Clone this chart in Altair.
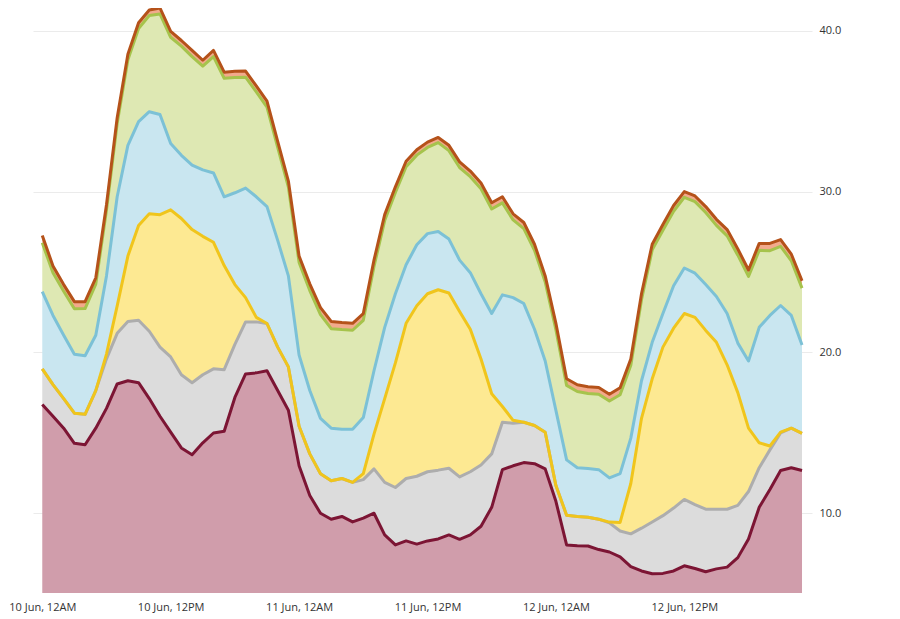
import altair as alt
import pandas as pd

# hourly timestamps, 10 Jun 00:00 .. 12 Jun 23:00
hours = pd.date_range("2024-06-10 00:00", periods=72, freq="h")

# cumulative top edge of each stacked band
red_top = [16.77, 16.03, 15.29, 14.35, 14.26, 15.29, 16.52, 18.04, 18.24, 18.12, 17.13, 16.03,
           15.04, 14.06, 13.64, 14.38, 14.99, 15.10, 17.20, 18.66, 18.73, 18.86, 17.63, 16.40,
           12.95, 11.10, 10.00, 9.63, 9.80, 9.46, 9.70, 10.00, 8.65, 8.03, 8.28, 8.08,
           8.28, 8.40, 8.65, 8.38, 8.65, 9.19, 10.37, 12.71, 12.95, 13.15, 13.08, 12.76,
           10.74, 8.03, 7.98, 7.96, 7.74, 7.59, 7.29, 6.68, 6.41, 6.24, 6.26, 6.41,
           6.73, 6.56, 6.36, 6.54, 6.65, 7.24, 8.40, 10.37, 11.48, 12.66, 12.83, 12.66]
grey_top = [18.98, 18.00, 17.13, 16.22, 16.15, 17.63, 19.60, 21.19, 21.93, 22.00, 21.32, 20.33,
            19.72, 18.61, 18.12, 18.61, 18.98, 18.93, 20.50, 21.90, 21.90, 21.80, 20.33, 19.10,
            15.41, 13.69, 12.46, 12.02, 12.16, 11.92, 12.09, 12.76, 11.92, 11.60, 12.16, 12.30,
            12.58, 12.68, 12.80, 12.26, 12.58, 13.00, 13.69, 15.66, 15.60, 15.66, 15.46, 15.04,
            11.72, 9.88, 9.80, 9.75, 9.63, 9.40, 8.90, 8.72, 9.07, 9.46, 9.85, 10.32,
            10.86, 10.54, 10.25, 10.25, 10.25, 10.49, 11.35, 12.83, 13.94, 15.00, 15.29, 14.97]
yellow_top = [18.98, 18.00, 17.13, 16.22, 16.15, 17.63, 19.90, 22.90, 25.99, 27.90, 28.62, 28.57,
              28.87, 28.33, 27.64, 27.22, 26.85, 25.40, 24.22, 23.41, 22.18, 21.80, 20.33, 19.10,
              15.41, 13.69, 12.46, 12.02, 12.16, 11.92, 12.46, 14.92, 17.13, 19.35, 21.81, 22.90,
              23.65, 23.90, 23.70, 22.55, 21.44, 19.59, 17.43, 16.64, 15.78, 15.66, 15.46, 15.04,
              11.72, 9.88, 9.80, 9.75, 9.63, 9.45, 9.43, 11.85, 15.90, 18.36, 20.33, 21.51,
              22.42, 22.18, 21.37, 20.63, 19.23, 17.50, 15.29, 14.38, 14.18, 15.04, 15.29, 14.97]
blue_top = [23.78, 22.30, 21.07, 19.89, 19.79, 21.07, 24.76, 29.68, 32.88, 34.35, 34.97, 34.80,
            33.00, 32.26, 31.65, 31.35, 31.16, 29.68, 29.93, 30.22, 29.68, 29.07, 26.97, 24.76,
            19.84, 17.63, 15.90, 15.29, 15.22, 15.22, 15.95, 18.86, 21.56, 23.65, 25.45, 26.70,
            27.39, 27.52, 27.05, 25.74, 24.96, 23.65, 22.42, 23.58, 23.41, 23.04, 21.44, 19.47,
            16.40, 13.32, 12.83, 12.78, 12.71, 12.20, 12.46, 14.67, 18.24, 20.63, 22.42, 24.15,
            25.25, 24.93, 24.22, 23.48, 22.42, 20.58, 19.47, 21.56, 22.30, 22.92, 22.30, 20.46]
green_top = [26.82, 24.95, 23.80, 22.72, 22.73, 24.25, 28.85, 34.25, 38.20, 40.15, 40.95, 41.05,
             39.60, 39.05, 38.40, 37.80, 38.40, 37.05, 37.10, 37.12, 36.20, 35.25, 32.75, 30.28,
             25.60, 23.85, 22.35, 21.48, 21.42, 21.38, 22.00, 25.35, 28.20, 29.95, 31.55, 32.27,
             32.75, 33.05, 32.55, 31.50, 30.93, 30.18, 28.92, 29.30, 28.24, 27.70, 26.35, 24.38,
             21.42, 17.95, 17.57, 17.45, 17.40, 16.98, 17.37, 19.20, 23.28, 26.38, 27.60, 28.78,
             29.65, 29.38, 28.70, 27.90, 27.25, 26.05, 24.73, 26.35, 26.33, 26.60, 25.70, 24.00]
orange_top = [27.27, 25.38, 24.22, 23.16, 23.16, 24.64, 29.19, 34.60, 38.54, 40.50, 41.30, 41.42,
              39.96, 39.40, 38.78, 38.17, 38.78, 37.43, 37.48, 37.50, 36.57, 35.63, 33.12, 30.66,
              25.99, 24.27, 22.79, 21.93, 21.86, 21.81, 22.42, 25.74, 28.57, 30.30, 31.89, 32.60,
              33.08, 33.37, 32.88, 31.85, 31.28, 30.54, 29.31, 29.68, 28.62, 28.08, 26.73, 24.76,
              21.81, 18.36, 17.99, 17.87, 17.82, 17.40, 17.80, 19.59, 23.65, 26.73, 27.96, 29.14,
              30.00, 29.73, 29.07, 28.28, 27.64, 26.43, 25.13, 26.78, 26.78, 27.02, 26.11, 24.46]

series_names = ["S1", "S2", "S3", "S4", "S5", "S6"]
tops = [red_top, grey_top, yellow_top, blue_top, green_top, orange_top]
fill_colors = ["#d09dab", "#dcdcdc", "#fde992", "#c9e6f0", "#dee8b3", "#f2aa8c"]
line_colors = ["#7c1534", "#adadad", "#f0c51c", "#7cc1d6", "#a6c34c", "#b5521a"]

x_ticks = ["2024-06-10T00:00:00", "2024-06-10T12:00:00", "2024-06-11T00:00:00",
           "2024-06-11T12:00:00", "2024-06-12T00:00:00", "2024-06-12T12:00:00"]

rows = []
for k, (name, top) in enumerate(zip(series_names, tops)):
    lower = [0.0] * len(top) if k == 0 else tops[k - 1]
    for t, v, lo in zip(hours, top, lower):
        rows.append({"time": t, "series": name, "top": v, "lower": lo, "k": k})
df = pd.DataFrame(rows)

FONT = "Open Sans"

x_enc = alt.X(
    "time:T",
    scale=alt.Scale(domain=[alt.DateTime(year=2024, month=6, date=9, hours=23, minutes=8),
                            alt.DateTime(year=2024, month=6, date=12, hours=23, minutes=56)]),
    axis=alt.Axis(
        values=[alt.DateTime(year=2024, month=6, date=10 + (i // 2), hours=12 * (i % 2))
                for i in range(len(x_ticks))],
        format="%-d %b, %-I%p", title=None, grid=False, domain=False, ticks=False,
        labelPadding=8, labelFontSize=11, labelFont=FONT, labelColor="#333333",
    ),
)
y_scale = alt.Scale(domain=[5.04, 41.42], nice=False, zero=False)

areas = alt.Chart(df).mark_area(clip=True, interpolate="linear").encode(
    x=x_enc,
    y=alt.Y("top:Q", scale=y_scale,
            axis=alt.Axis(orient="right", values=[10, 20, 30, 40], format=".1f", title=None,
                          grid=True, gridColor="#ebebeb", gridWidth=1, domain=False, ticks=False,
                          labelPadding=7, labelFontSize=11, labelFont=FONT, labelColor="#333333")),
    y2="lower:Q",
    color=alt.Color("series:N", scale=alt.Scale(domain=series_names, range=fill_colors), legend=None),
)

layers = [areas]
for k, name in enumerate(series_names):
    ln = alt.Chart(df).transform_filter(alt.datum.series == name).mark_line(
        strokeWidth=3, color=line_colors[k], strokeJoin="round"
    ).encode(
        x="time:T",
        y=alt.Y("top:Q", scale=y_scale),
    )
    layers.append(ln)

chart = alt.layer(*layers).properties(
    width=779, height=585,
    padding={"left": 25, "top": 0, "right": 70, "bottom": 20},
    autosize=alt.AutoSizeParams(type="none"),
).configure_view(stroke=None)

chart.save("out.html", embed_options={"renderer": "svg", "actions": False})
